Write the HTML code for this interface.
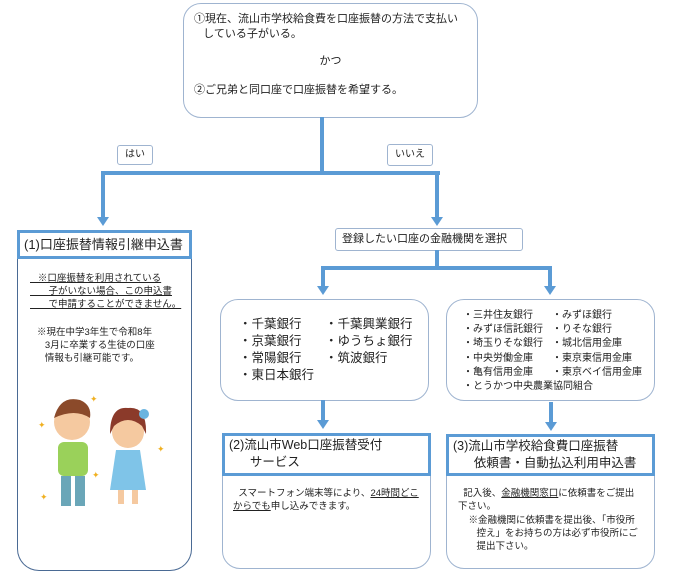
<!DOCTYPE html>
<html><head><meta charset="utf-8"><style>
body{margin:0;width:690px;height:580px;background:#fff;position:relative;overflow:hidden;font-family:"Liberation Sans","Noto Sans CJK JP",sans-serif;color:#222}
.a{position:absolute;box-sizing:border-box}
.r{border:1.3px solid #9fb4d0;border-radius:18px;background:#fff}
.t{border:3px solid #5b9bd5;background:#fff}
.ln{position:absolute;background:#5b9bd5}
.ar{position:absolute;width:0;height:0;border-left:6px solid transparent;border-right:6px solid transparent;border-top:9px solid #5b9bd5}
.f11{font-size:11px;line-height:15px}
u{text-decoration:underline}
</style></head><body>
<div class="a r" style="left:183px;top:3px;width:295px;height:115px;padding:8px 10px;font-size:11px;line-height:15px">
①現在、流山市学校給食費を口座振替の方法で支払い<br>&nbsp;&nbsp;&nbsp;している子がいる。<div style="text-align:center;margin-top:12px">かつ</div><div style="margin-top:14px">②ご兄弟と同口座で口座振替を希望する。</div></div>
<div class="ln" style="left:320px;top:117px;width:4px;height:57px"></div>
<div class="ln" style="left:101px;top:171px;width:339px;height:4px"></div>
<div class="ln" style="left:101px;top:171px;width:4px;height:48px"></div>
<div class="ar" style="left:97px;top:217px"></div>
<div class="ln" style="left:435px;top:171px;width:4px;height:48px"></div>
<div class="ar" style="left:431px;top:217px"></div>
<div class="a" style="left:117px;top:145px;width:36px;height:20px;border:1px solid #9fb4d0;border-radius:3px;font-size:10px;line-height:18px;text-align:center">はい</div>
<div class="a" style="left:387px;top:144px;width:46px;height:22px;border:1px solid #9fb4d0;border-radius:3px;font-size:10px;line-height:20px;text-align:center">いいえ</div>
<div class="a" style="left:335px;top:228px;width:188px;height:23px;border:1px solid #9fb4d0;border-radius:3px;font-size:11px;line-height:21px;padding-left:6px">登録したい口座の金融機関を選択</div>
<div class="ln" style="left:435px;top:250px;width:4px;height:20px"></div>
<div class="ln" style="left:321px;top:266px;width:230px;height:4px"></div>
<div class="ln" style="left:321px;top:266px;width:4px;height:22px"></div>
<div class="ar" style="left:317px;top:286px"></div>
<div class="ln" style="left:548px;top:266px;width:4px;height:22px"></div>
<div class="ar" style="left:544px;top:286px"></div>
<!-- left -->
<div class="a" style="left:17px;top:255px;width:175px;height:316px;border:1.5px solid #4a6a94;border-top:none;border-radius:0 0 22px 22px"></div>
<div class="a t" style="left:17px;top:230px;width:175px;height:29px;font-size:13px;line-height:23px;padding-left:4px">(1)口座振替情報引継申込書</div>
<div class="a" style="left:30px;top:272px;width:160px;font-size:9.5px;line-height:13px"><u>&nbsp;&nbsp;&nbsp;※口座振替を利用されている<br>&nbsp;&nbsp;&nbsp;&nbsp;&nbsp;&nbsp;&nbsp;子がいない場合、この申込書<br>&nbsp;&nbsp;&nbsp;&nbsp;&nbsp;&nbsp;&nbsp;で申請することができません。</u></div>
<div class="a" style="left:37px;top:326px;width:150px;font-size:9.5px;line-height:13px">※現在中学3年生で令和8年<br>&nbsp;&nbsp;&nbsp;3月に卒業する生徒の口座<br>&nbsp;&nbsp;&nbsp;情報も引継可能です。</div>
<svg class="a" style="left:30px;top:390px" width="140" height="125" viewBox="0 0 140 125">
<circle cx="42" cy="32" r="18" fill="#f5c9a0"/><path d="M24 28 Q30 5 50 10 Q62 15 60 28 Q45 18 24 28Z" fill="#8b4a2a"/>
<rect x="28" y="52" width="30" height="34" rx="6" fill="#9ad15a"/><rect x="31" y="86" width="10" height="30" fill="#6aa6b8"/><rect x="45" y="86" width="10" height="30" fill="#6aa6b8"/>
<circle cx="98" cy="42" r="16" fill="#f5c9a0"/><path d="M80 44 Q80 16 98 18 Q117 16 116 44 L112 36 Q98 24 84 36Z" fill="#8b3a2a"/>
<circle cx="114" cy="24" r="5" fill="#6ab4e0"/>
<path d="M86 60 L110 60 L116 100 L80 100Z" fill="#7fc4e8"/><rect x="88" y="100" width="6" height="14" fill="#f5c9a0"/><rect x="102" y="100" width="6" height="14" fill="#f5c9a0"/>
<text x="8" y="38" font-size="9" fill="#f0b020">✦</text><text x="60" y="12" font-size="9" fill="#f0b020">✦</text><text x="127" y="62" font-size="9" fill="#f0b020">✦</text><text x="62" y="88" font-size="9" fill="#f0b020">✦</text><text x="10" y="110" font-size="9" fill="#f0b020">✦</text>
</svg>
<!-- middle -->
<div class="a r" style="left:220px;top:299px;width:209px;height:102px;padding:16px 0 0 18px;font-size:12.5px;line-height:17px">
<div style="position:absolute;left:18px;top:16px">・千葉銀行<br>・京葉銀行<br>・常陽銀行<br>・東日本銀行</div>
<div style="position:absolute;left:104px;top:16px">・千葉興業銀行<br>・ゆうちょ銀行<br>・筑波銀行</div></div>
<div class="ln" style="left:321px;top:400px;width:4px;height:22px"></div><div class="ar" style="left:317px;top:420px"></div>
<div class="a r" style="left:222px;top:460px;width:209px;height:109px;border-radius:0 0 18px 18px"></div>
<div class="a t" style="left:222px;top:433px;width:209px;height:43px;font-size:12.5px;line-height:17px;padding:1px 0 0 4px">(2)流山市Web口座振替受付<br>&nbsp;&nbsp;&nbsp;&nbsp;&nbsp;&nbsp;サービス</div>
<div class="a" style="left:233px;top:487px;width:195px;font-size:9.5px;line-height:13px">&nbsp;&nbsp;スマートフォン端末等により、<u>24時間どこ<br>からでも</u>申し込みできます。</div>
<!-- right -->
<div class="a r" style="left:446px;top:299px;width:209px;height:102px;font-size:10px;line-height:14.2px">
<div style="position:absolute;left:16px;top:9px">・三井住友銀行<br>・みずほ信託銀行<br>・埼玉りそな銀行<br>・中央労働金庫<br>・亀有信用金庫<br>・とうかつ中央農業協同組合</div>
<div style="position:absolute;left:105px;top:9px">・みずほ銀行<br>・りそな銀行<br>・城北信用金庫<br>・東京東信用金庫<br>・東京ベイ信用金庫</div></div>
<div class="ln" style="left:549px;top:402px;width:4px;height:22px"></div><div class="ar" style="left:545px;top:422px"></div>
<div class="a r" style="left:446px;top:460px;width:209px;height:109px;border-radius:0 0 18px 18px"></div>
<div class="a t" style="left:446px;top:434px;width:209px;height:42px;font-size:12.5px;line-height:17px;padding:1px 0 0 4px">(3)流山市学校給食費口座振替<br>&nbsp;&nbsp;&nbsp;&nbsp;&nbsp;&nbsp;依頼書・自動払込利用申込書</div>
<div class="a" style="left:458px;top:487px;width:195px;font-size:9.5px;line-height:13.3px">&nbsp;&nbsp;記入後、<u>金融機関窓口</u>に依頼書をご提出<br>下さい。<br>&nbsp;&nbsp;&nbsp;&nbsp;※金融機関に依頼書を提出後、「市役所<br>&nbsp;&nbsp;&nbsp;&nbsp;&nbsp;&nbsp;&nbsp;控え」をお持ちの方は必ず市役所にご<br>&nbsp;&nbsp;&nbsp;&nbsp;&nbsp;&nbsp;&nbsp;提出下さい。</div>
</body></html>
